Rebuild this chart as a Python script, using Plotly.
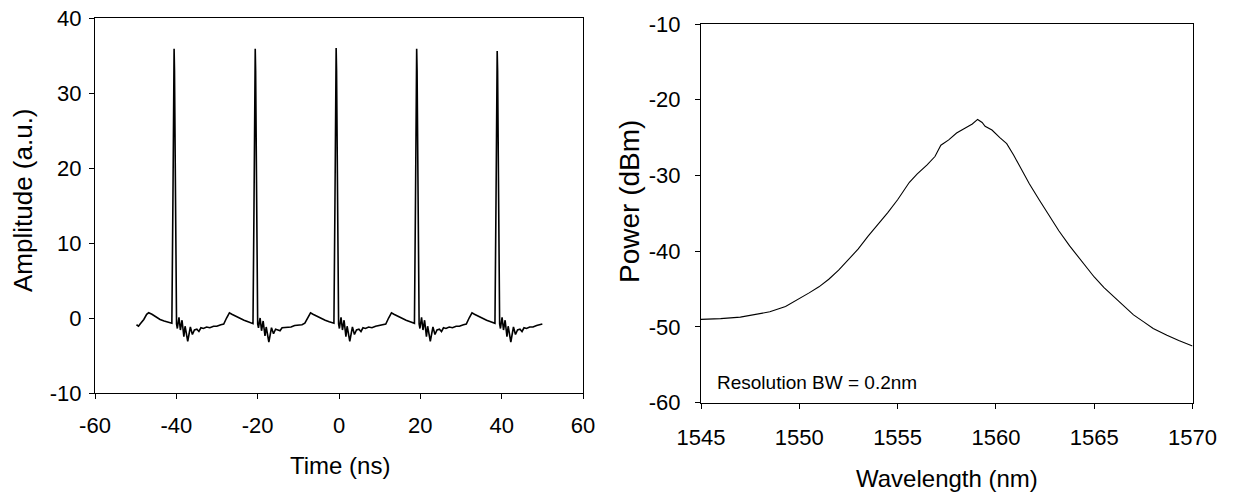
import plotly.graph_objects as go

# ---------------- Left panel: pulse train ----------------
time_ns = [
    -49.8, -49.3, -48.9, -48.0, -47.3, -46.8, -46.0, -45.0, -44.0, -43.0, -42.0, -41.1,
    -40.85, -40.65, -40.55, -40.45, -40.25, -39.95,
    -39.75, -39.35, -39.0, -38.6, -38.15, -37.85, -37.2, -36.55, -36.05, -35.55, -34.95, -34.45,
    -33.95, -33.35, -32.55, -31.75, -30.85, -30.05, -29.05, -28.35, -27.65, -26.95, -26.35,
    -25.35, -24.35, -23.35, -22.35, -21.55,
    -21.15, -20.9, -20.7, -20.6, -20.5, -20.3, -20.0,
    -19.8, -19.4, -19.05, -18.65, -18.2, -17.9, -17.25, -16.6, -16.1, -15.6, -15.0, -14.5,
    -14.0, -13.4, -12.6, -11.8, -10.9, -10.1, -9.1, -8.4, -7.7, -7.0, -6.4,
    -5.4, -4.4, -3.4, -2.4, -1.6,
    -1.25, -1.0, -0.8, -0.7, -0.6, -0.4, -0.1,
    0.1, 0.5, 0.85, 1.25, 1.7, 2.0, 2.65, 3.3, 3.8, 4.3, 4.9, 5.4,
    5.9, 6.5, 7.3, 8.1, 9.0, 9.8, 10.8, 11.5, 12.2, 12.9, 13.5,
    14.5, 15.5, 16.5, 17.5, 18.2,
    18.55, 18.8, 19.0, 19.1, 19.2, 19.4, 19.7,
    19.9, 20.3, 20.65, 21.05, 21.5, 21.8, 22.45, 23.1, 23.6, 24.1, 24.7, 25.2,
    25.7, 26.3, 27.1, 27.9, 28.8, 29.6, 30.6, 31.3, 32.0, 32.7, 33.3,
    34.3, 35.3, 36.3, 37.3, 38.0,
    38.35, 38.6, 38.8, 38.9, 39.0, 39.2, 39.5,
    39.7, 40.1, 40.45, 40.85, 41.3, 41.6, 42.25, 42.9, 43.4, 43.9, 44.5, 45.0,
    45.5, 46.1, 46.9, 47.7, 48.6, 49.3, 50.0,
]
amplitude = [
    -0.9, -1.1, -0.8, -0.2, 0.5, 0.7, 0.5, 0.1, -0.2, -0.4, -0.6, -0.7,
    15.0, 33.0, 35.9, 33.0, 15.0, -0.8,
    -1.4, 0.1, -1.6, -0.3, -2.5, -1.1, -3.1, -1.2, -2.2, -1.6, -1.5, -1.8,
    -1.3, -1.4, -1.2, -1.3, -1.1, -1.1, -0.9, -0.8, 0.0, 0.7, 0.5,
    0.2, -0.1, -0.3, -0.5, -0.7,
    -0.75, 15.0, 33.0, 35.9, 33.0, 15.0, -0.8,
    -1.3, 0.0, -1.7, -0.4, -2.4, -1.2, -3.2, -1.3, -2.1, -1.5, -1.6, -1.7,
    -1.3, -1.3, -1.2, -1.2, -1.0, -1.0, -0.9, -0.7, 0.0, 0.7, 0.5,
    0.2, -0.1, -0.3, -0.5, -0.7,
    -0.7, 15.0, 33.0, 36.0, 33.0, 15.0, -0.8,
    -1.4, 0.1, -1.6, -0.3, -2.5, -1.1, -3.1, -1.2, -2.2, -1.6, -1.5, -1.8,
    -1.3, -1.4, -1.2, -1.3, -1.1, -1.0, -0.9, -0.8, 0.0, 0.7, 0.5,
    0.2, -0.1, -0.3, -0.5, -0.7,
    -0.7, 15.0, 33.0, 35.9, 33.0, 15.0, -0.8,
    -1.4, 0.1, -1.6, -0.3, -2.5, -1.1, -3.1, -1.2, -2.2, -1.6, -1.5, -1.8,
    -1.3, -1.4, -1.2, -1.3, -1.1, -1.1, -0.9, -0.8, 0.0, 0.7, 0.5,
    0.2, -0.1, -0.3, -0.5, -0.7,
    -0.7, 15.0, 33.0, 35.6, 33.0, 15.0, -0.8,
    -1.4, 0.1, -1.6, -0.3, -2.5, -1.1, -3.2, -1.2, -2.2, -1.6, -1.5, -1.8,
    -1.3, -1.4, -1.2, -1.2, -1.0, -0.9, -0.8,
]

time_ticks = [-60, -40, -20, 0, 20, 40, 60]
time_tick_labels = ["-60", "-40", "-20", "0", "20", "40", "60"]
amp_ticks = [-10, 0, 10, 20, 30, 40]
amp_tick_labels = ["-10", "0", "10", "20", "30", "40"]

# ---------------- Right panel: optical spectrum ----------------
wavelength_nm = [
    1545.0, 1546.0, 1547.0, 1548.0, 1548.5, 1549.3, 1550.0, 1550.5, 1551.0, 1551.5,
    1552.0, 1552.5, 1553.0, 1553.5, 1554.0, 1554.5, 1555.0, 1555.6, 1556.0, 1556.5,
    1556.9, 1557.2, 1557.6, 1558.0, 1558.4, 1558.8, 1559.07, 1559.3, 1559.45, 1559.8,
    1560.2, 1560.55, 1560.9, 1561.3, 1561.7, 1562.2, 1562.7, 1563.2, 1563.75, 1564.4,
    1565.0, 1565.5, 1566.0, 1566.5, 1567.0, 1567.5, 1568.0, 1568.7, 1569.3, 1570.0,
]
power_dbm = [
    -49.0, -48.9, -48.7, -48.3, -48.0, -47.3, -46.3, -45.5, -44.7, -43.7,
    -42.5, -41.1, -39.7, -38.0, -36.5, -34.9, -33.2, -30.9, -29.8, -28.6,
    -27.5, -26.0, -25.3, -24.4, -23.8, -23.2, -22.6, -23.0, -23.5, -24.0,
    -25.0, -25.8, -27.3, -29.3, -31.1, -33.2, -35.3, -37.3, -39.3, -41.5,
    -43.4, -44.8, -46.0, -47.2, -48.4, -49.3, -50.2, -51.1, -51.8, -52.5,
]
wl_ticks = [1545, 1550, 1555, 1560, 1565, 1570]
wl_tick_labels = ["1545", "1550", "1555", "1560", "1565", "1570"]
pow_ticks = [-60, -50, -40, -30, -20, -10]
pow_tick_labels = ["-60", "-50", "-40", "-30", "-20", "-10"]

FONT = "Arial, Liberation Sans, sans-serif"
W, H = 1234, 498

fig = go.Figure()
fig.add_trace(go.Scatter(x=time_ns, y=amplitude, mode="lines",
                         line=dict(color="black", width=1.6),
                         xaxis="x", yaxis="y", showlegend=False))
fig.add_trace(go.Scatter(x=wavelength_nm, y=power_dbm, mode="lines",
                         line=dict(color="black", width=1.1),
                         xaxis="x2", yaxis="y2", showlegend=False))

axis_common = dict(showgrid=False, zeroline=False, showline=True, linecolor="black",
                   linewidth=1, mirror=True, ticks="outside", ticklen=5,
                   tickcolor="black", tickwidth=1, automargin=False,
                   tickfont=dict(family=FONT, size=22, color="black"))

fig.update_layout(
    template="none",
    width=W, height=H, autosize=False,
    margin=dict(l=0, r=0, t=0, b=0, pad=0),
    paper_bgcolor="white", plot_bgcolor="white",
    font=dict(family=FONT, color="black"),
    xaxis=dict(domain=[95 / W, 583 / W], range=[-60, 60], tickvals=time_ticks,
               ticktext=time_tick_labels, ticklabelstandoff=8,
               anchor="y", **axis_common),
    yaxis=dict(domain=[1 - 393 / H, 1 - 18 / H], range=[-10, 40], tickvals=amp_ticks,
               ticktext=amp_tick_labels, ticklabelstandoff=3,
               anchor="x", **axis_common),
    xaxis2=dict(domain=[701 / W, 1192.5 / W], range=[1545, 1570], tickvals=wl_ticks,
                ticktext=wl_tick_labels, ticklabelstandoff=10,
                anchor="y2", **axis_common),
    yaxis2=dict(domain=[1 - 402.7 / H, 1 - 24 / H], range=[-60, -10], tickvals=pow_ticks,
                ticktext=pow_tick_labels, ticklabelstandoff=10,
                anchor="x2", **axis_common),
)

def title(text, px, py, angle=0, size=24):
    fig.add_annotation(text=text, xref="paper", yref="paper", x=px / W, y=1 - py / H,
                       xanchor="center", yanchor="middle", showarrow=False,
                       textangle=angle, font=dict(family=FONT, size=size, color="black"))

title("Time (ns)", 340, 465)
title("Wavelength (nm)", 946.5, 478)
title("Amplitude (a.u.)", 23, 200, angle=-90, size=26)
title("Power (dBm)", 630, 202, angle=-90, size=28)

fig.add_annotation(text="Resolution BW = 0.2nm", xref="x2", yref="y2", x=1545.7, y=-57.36,
                   xanchor="left", yanchor="middle", showarrow=False,
                   font=dict(family=FONT, size=19, color="black"))

fig.write_html("out.html", config={"displayModeBar": False},
               post_script="document.body.style.margin='0';")
